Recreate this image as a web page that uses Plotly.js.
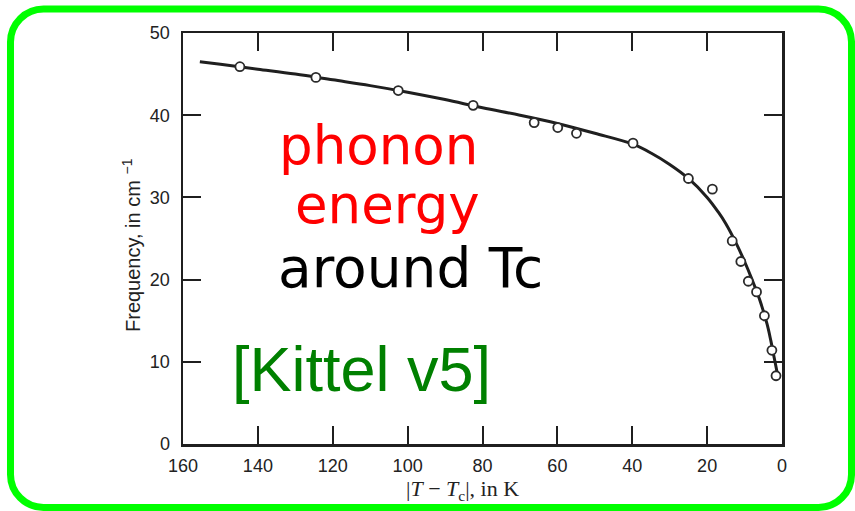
<!DOCTYPE html>
<html>
<head>
<meta charset="utf-8">
<script src="https://cdn.plot.ly/plotly-3.0.1.min.js"></script>
<style>
  html, body { margin: 0; padding: 0; background: #ffffff; }
  #chart { width: 855px; height: 511px; }
</style>
</head>
<body>
<div id="chart"></div>
<script>
// Soft-mode phonon frequency versus |T - Tc|
const measuredT = [144.8, 124.5, 102.5, 82.5, 66.2, 59.9, 54.9, 39.8, 25.0, 18.6, 13.3, 11.0, 9.0, 6.8, 4.7, 2.7, 1.6];
const measuredFreq = [45.9, 44.6, 43.0, 41.2, 39.1, 38.5, 37.8, 36.6, 32.3, 31.0, 24.7, 22.2, 19.8, 18.5, 15.6, 11.4, 8.3];

// Smooth guide curve through the measurements
const curveT = [155.5, 150, 140, 130, 120, 110, 100, 90, 80, 70, 60, 50, 40, 35, 30, 25, 20, 17, 15, 12, 10, 8, 6, 4, 3, 2, 1];
const curveFreq = [46.5, 46.2, 45.6, 45.0, 44.3, 43.6, 42.8, 41.9, 40.9, 40.0, 39.0, 37.8, 36.5, 35.4, 34.0, 32.3, 30.0, 28.2, 26.8, 24.2, 22.2, 20.0, 17.6, 14.6, 12.6, 10.3, 8.0];

const xTicks = [160, 140, 120, 100, 80, 60, 40, 20, 0];
const yTicks = [0, 10, 20, 30, 40, 50];

// Plot area in page pixels
const W_PAGE = 855, H_PAGE = 511;
const PL = 183, PR = 782, PT = 33, PB = 444;
const px = (X) => (X - PL) / (PR - PL);
const py = (Y) => (PB - Y) / (PB - PT);

// Rounded frame around the whole figure
function roundedFrame(x0, y0, x1, y1, r) {
  const k = 0.5523 * r;
  const P = (X, Y) => px(X).toFixed(5) + ',' + py(Y).toFixed(5);
  return 'M' + P(x0 + r, y0) +
    ' L' + P(x1 - r, y0) +
    ' C' + P(x1 - r + k, y0) + ' ' + P(x1, y0 + r - k) + ' ' + P(x1, y0 + r) +
    ' L' + P(x1, y1 - r) +
    ' C' + P(x1, y1 - r + k) + ' ' + P(x1 - r + k, y1) + ' ' + P(x1 - r, y1) +
    ' L' + P(x0 + r, y1) +
    ' C' + P(x0 + r - k, y1) + ' ' + P(x0, y1 - r + k) + ' ' + P(x0, y1 - r) +
    ' L' + P(x0, y0 + r) +
    ' C' + P(x0, y0 + r - k) + ' ' + P(x0 + r - k, y0) + ' ' + P(x0 + r, y0) + ' Z';
}

const INK = '#1f1f1f';
const tickFont = { family: 'Liberation Sans, Arial, sans-serif', size: 18, color: '#222' };

const axisCommon = {
  showline: true, linewidth: 2.5, linecolor: INK,
  mirror: 'ticks', ticks: 'inside', ticklen: 18, tickwidth: 2, tickcolor: INK,
  showgrid: false, zeroline: false, tickfont: tickFont, fixedrange: true
};

const traces = [
  {
    x: curveT, y: curveFreq, type: 'scatter', mode: 'lines',
    line: { color: INK, width: 3, shape: 'spline', smoothing: 1 },
    hoverinfo: 'skip', showlegend: false
  },
  {
    x: measuredT, y: measuredFreq, type: 'scatter', mode: 'markers',
    marker: { symbol: 'circle', size: 9, color: '#ffffff', line: { color: '#2a2a2a', width: 1.8 } },
    cliponaxis: false, showlegend: false
  }
];

const labels = [
  { text: 'phonon', X: 378, Y: 145, size: 53, color: '#ff0000', family: 'DejaVu Sans, sans-serif' },
  { text: 'energy', X: 387, Y: 204, size: 53, color: '#ff0000', family: 'DejaVu Sans, sans-serif' },
  { text: 'around Tc', X: 410, Y: 268, size: 55, color: '#000000', family: 'DejaVu Sans, sans-serif' },
  { text: '[Kittel v5]', X: 361, Y: 369, size: 63, color: '#008000', family: 'Liberation Sans, Arial, sans-serif' }
];

const annotations = labels.map(l => ({
  xref: 'paper', yref: 'paper', x: px(l.X), y: py(l.Y),
  xanchor: 'center', yanchor: 'middle', showarrow: false,
  text: l.text, font: { family: l.family, size: l.size, color: l.color }
}));

// Axis titles
annotations.push({
  xref: 'paper', yref: 'paper', x: px(462), y: py(490),
  xanchor: 'center', yanchor: 'middle', showarrow: false,
  text: '|<i>T</i> − <i>T</i><sub>c</sub>|, in K',
  font: { family: 'Liberation Serif, Times New Roman, serif', size: 22, color: '#222' }
});
annotations.push({
  xref: 'paper', yref: 'paper', x: px(131), y: py(245),
  xanchor: 'center', yanchor: 'middle', showarrow: false, textangle: -90,
  text: 'Frequency, in cm <sup>−1</sup>',
  font: { family: 'Liberation Sans, Arial, sans-serif', size: 20, color: '#222' }
});

const layout = {
  width: W_PAGE, height: H_PAGE,
  margin: { l: PL, r: W_PAGE - PR, t: PT, b: H_PAGE - PB, pad: 0 },
  paper_bgcolor: '#ffffff', plot_bgcolor: '#ffffff',
  showlegend: false,
  xaxis: Object.assign({}, axisCommon, { range: [160, 0], tickvals: xTicks, ticklabelstandoff: 4 }),
  yaxis: Object.assign({}, axisCommon, { range: [0, 50], tickvals: yTicks, ticklabelstandoff: 7 }),
  annotations: annotations,
  shapes: [{
    type: 'path', xref: 'paper', yref: 'paper', layer: 'above',
    path: roundedFrame(10.5, 9, 851.5, 507.5, 33),
    line: { color: '#00ff00', width: 7 }, fillcolor: 'rgba(0,0,0,0)'
  }]
};

Plotly.newPlot('chart', traces, layout, { displayModeBar: false, staticPlot: true });
</script>
</body>
</html>
